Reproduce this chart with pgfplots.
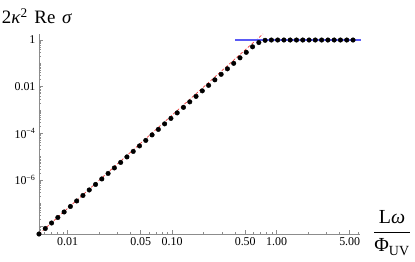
\documentclass[border=0pt]{standalone}
\usepackage{fontspec}
\setmainfont{Liberation Serif}
\usepackage{pgfplots}
\pgfplotsset{compat=1.18}
\definecolor{axgray}{RGB}{140,140,140}
\definecolor{myred}{RGB}{240,60,60}
\definecolor{myblue}{RGB}{90,90,245}
\begin{document}
\begin{tikzpicture}
\path[use as bounding box] (-39bp,-28bp) rectangle (376bp,234bp);
\begin{axis}[
  at={(0,0)}, anchor=south west,
  scale only axis, width=321bp, height=200.5bp,
  xmode=log, ymode=log,
  xmin=0.005313, xmax=6.27, ymin=4.842e-9, ymax=1.901,
  axis x line=bottom, axis y line=left,
  axis line style={-, draw=axgray, line width=0.6bp},
  clip=false,
  xtick={0.01,0.05,0.1,0.5,1,5},
  xticklabels={0.01,0.05,0.10,0.50,1.00,5.00},
  minor xtick={0.006,0.007,0.008,0.009,0.02,0.03,0.04,0.06,0.07,0.08,0.09,0.2,0.3,0.4,0.6,0.7,0.8,0.9,2,3,4,6},
  ytick={1e-8,1e-6,1e-4,1e-2,1},
  yticklabels={,10\textsuperscript{−6},10\textsuperscript{−4},0.01,1},
  minor ytick={2e-9,3e-9,4e-9,5e-9,6e-9,7e-9,8e-9,9e-9,
    2e-8,3e-8,4e-8,5e-8,6e-8,7e-8,8e-8,9e-8,1e-7,
    2e-7,3e-7,4e-7,5e-7,6e-7,7e-7,8e-7,9e-7,
    2e-6,3e-6,4e-6,5e-6,6e-6,7e-6,8e-6,9e-6,1e-5,
    2e-5,3e-5,4e-5,5e-5,6e-5,7e-5,8e-5,9e-5,
    2e-4,3e-4,4e-4,5e-4,6e-4,7e-4,8e-4,9e-4,1e-3,
    2e-3,3e-3,4e-3,5e-3,6e-3,7e-3,8e-3,9e-3,
    2e-2,3e-2,4e-2,5e-2,6e-2,7e-2,8e-2,9e-2,0.1,
    0.2,0.3,0.4,0.5,0.6,0.7,0.8,0.9},
  tick align=inside,
  major tick length=4bp, minor tick length=2bp,
  tick style={axgray, line width=0.5bp},
  ticklabel style={font=\fontsize{12}{14}\selectfont},
]
\addplot[myred, line width=0.7bp, dash pattern=on 3bp off 2bp] coordinates {(0.005313,4.842e-9) (0.74,1.82)};
\addplot[myblue, line width=1.1bp] coordinates {(0.40,1) (6.35,1)};
\addplot[only marks, mark=*, mark size=2.3bp, black] table {
x y
0.005313 4.842e-9
0.006102 8.337e-9
0.007008 1.4355e-8
0.008048 2.4717e-8
0.009243 4.2560e-8
0.010615 7.3282e-8
0.012190 1.2618e-7
0.014000 2.1727e-7
0.016078 3.7411e-7
0.018465 6.4417e-7
0.021206 1.1092e-6
0.024354 1.9099e-6
0.027969 3.2885e-6
0.032121 5.6624e-6
0.036890 9.7499e-6
0.042366 1.6788e-5
0.048655 2.8907e-5
0.055878 4.9774e-5
0.064173 8.5704e-5
0.073699 1.4757e-4
0.084640 2.5410e-4
0.097204 4.3752e-4
0.11163 7.5336e-4
0.12820 1.2972e-3
0.14724 2.2336e-3
0.16909 3.8459e-3
0.19409 6.6222e-3
0.22293 1.1402e-2
0.25603 1.9634e-2
0.29404 3.3806e-2
0.33768 5.8210e-2
0.38780 0.10023
0.44537 0.17258
0.51150 0.29717
0.58736 0.51170
0.67454 0.78
0.77446 0.97
0.88935 1
1.0214 1
1.1729 1
1.3470 1
1.5470 1
1.7765 1
2.0402 1
2.3429 1
2.6907 1
3.0903 1
3.5490 1
4.0757 1
4.6805 1
5.3753 1
};
\end{axis}
\node at (-2bp,218bp) {\fontsize{19}{22}\selectfont 2\textit{κ}\textsuperscript{2}\hspace{2bp} Re\hspace{2bp} \textit{σ}};
\node at (353bp,1bp) {\fontsize{20}{24}\selectfont $\displaystyle\frac{\hbox{L\textit{ω}}}{\hbox{Φ\textsubscript{UV}}}$};
\end{tikzpicture}
\end{document}
